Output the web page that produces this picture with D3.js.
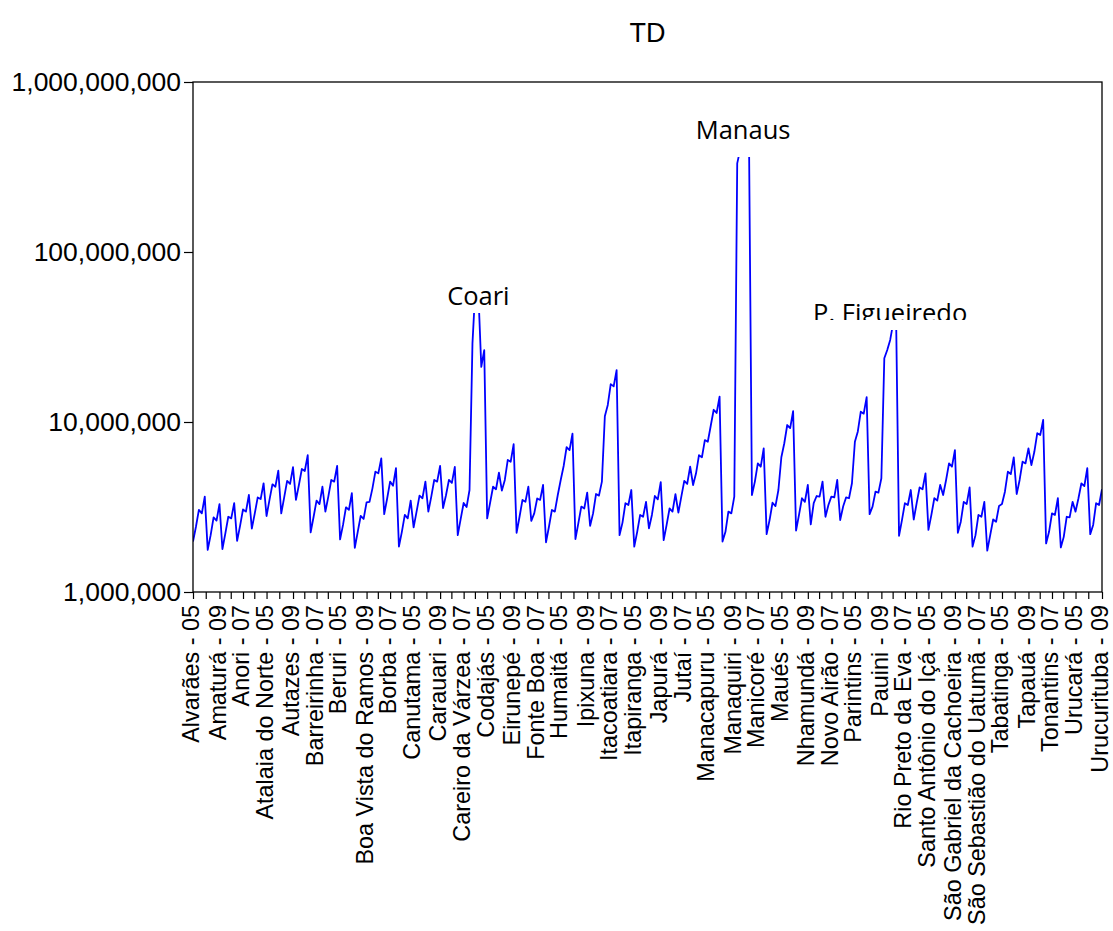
<!DOCTYPE html>
<html>
<head>
<meta charset="utf-8">
<script src="https://cdn.jsdelivr.net/npm/d3@7"></script>
<style>
  html, body { margin: 0; padding: 0; background: #fff; }
  svg { display: block; }
</style>
</head>
<body>
<svg id="chart" width="1113" height="931"></svg>
<script>
// TD by municipality of Amazonas, 2005-2009 (log scale)
const municipalities = [
  "Alvarães", "Amaturá", "Anamã", "Anori", "Apuí", "Atalaia do Norte", "Autazes", "Barcelos",
  "Barreirinha", "Benjamin Constant", "Beruri", "Boa Vista do Ramos", "Boca do Acre", "Borba",
  "Caapiranga", "Canutama", "Carauari", "Careiro", "Careiro da Várzea", "Coari", "Codajás",
  "Eirunepé", "Envira", "Fonte Boa", "Guajará", "Humaitá", "Ipixuna", "Iranduba", "Itacoatiara",
  "Itamarati", "Itapiranga", "Japurá", "Juruá", "Jutaí", "Lábrea", "Manacapuru", "Manaquiri",
  "Manaus", "Manicoré", "Maraã", "Maués", "Nhamundá", "Nova Olinda do Norte", "Novo Airão",
  "Novo Aripuanã", "Parintins", "Pauini", "Presidente Figueiredo", "Rio Preto da Eva",
  "Santa Isabel do Rio Negro", "Santo Antônio do Içá", "São Gabriel da Cachoeira",
  "São Paulo de Olivença", "São Sebastião do Uatumã", "Silves", "Tabatinga", "Tapauá", "Tefé",
  "Tonantins", "Uarini", "Urucará", "Urucurituba"
];

const years = ["05", "06", "07", "08", "09"];

// one row per municipality, 2005..2009
const tdValues = [
  1.98e6, 2.42e6, 3.04e6, 2.90e6, 3.64e6,
  1.77e6, 2.16e6, 2.75e6, 2.63e6, 3.29e6,
  1.79e6, 2.21e6, 2.77e6, 2.71e6, 3.33e6,
  2.00e6, 2.45e6, 3.06e6, 2.97e6, 3.72e6,
  2.36e6, 2.90e6, 3.60e6, 3.52e6, 4.36e6,
  2.80e6, 3.48e6, 4.30e6, 4.16e6, 5.17e6,
  2.90e6, 3.60e6, 4.50e6, 4.32e6, 5.42e6,
  3.48e6, 4.26e6, 5.29e6, 5.15e6, 6.38e6,
  2.24e6, 2.77e6, 3.45e6, 3.29e6, 4.16e6,
  2.97e6, 3.64e6, 4.56e6, 4.46e6, 5.51e6,
  2.04e6, 2.48e6, 3.15e6, 3.04e6, 3.81e6,
  1.82e6, 2.26e6, 2.80e6, 2.69e6, 3.37e6,
  3.39e6, 4.07e6, 5.10e6, 4.99e6, 6.11e6,
  2.87e6, 3.55e6, 4.46e6, 4.22e6, 5.35e6,
  1.85e6, 2.26e6, 2.84e6, 2.71e6, 3.45e6,
  2.40e6, 2.97e6, 3.69e6, 3.56e6, 4.46e6,
  2.97e6, 3.64e6, 4.56e6, 4.46e6, 5.51e6,
  3.12e6, 3.71e6, 4.56e6, 4.38e6, 5.44e6,
  2.16e6, 2.69e6, 3.34e6, 3.16e6, 3.98e6,
  29.0e6, 62.0e6, 58.0e6, 21.1e6, 26.5e6,
  2.71e6, 3.35e6, 4.16e6, 4.02e6, 5.03e6,
  3.95e6, 4.56e6, 5.98e6, 5.84e6, 7.40e6,
  2.23e6, 2.77e6, 3.48e6, 3.39e6, 4.16e6,
  2.62e6, 2.90e6, 3.55e6, 3.48e6, 4.26e6,
  1.96e6, 2.42e6, 3.04e6, 2.97e6, 3.72e6,
  4.56e6, 5.51e6, 7.11e6, 6.84e6, 8.53e6,
  2.05e6, 2.54e6, 3.18e6, 3.10e6, 3.84e6,
  2.45e6, 2.90e6, 3.77e6, 3.69e6, 4.46e6,
  10.8e6, 12.6e6, 16.7e6, 16.2e6, 20.2e6,
  2.16e6, 2.56e6, 3.33e6, 3.25e6, 3.98e6,
  1.85e6, 2.26e6, 2.84e6, 2.77e6, 3.39e6,
  2.37e6, 2.84e6, 3.67e6, 3.51e6, 4.43e6,
  2.02e6, 2.48e6, 3.10e6, 2.97e6, 3.76e6,
  2.93e6, 3.64e6, 4.50e6, 4.32e6, 5.46e6,
  4.26e6, 4.99e6, 6.38e6, 6.20e6, 7.83e6,
  7.65e6, 9.50e6, 11.8e6, 11.3e6, 14.1e6,
  1.98e6, 2.26e6, 2.97e6, 2.90e6, 3.64e6,
  332e6, 400e6, 450e6, 460e6, 470e6,
  3.72e6, 4.46e6, 5.71e6, 5.46e6, 7.00e6,
  2.19e6, 2.65e6, 3.35e6, 3.20e6, 3.98e6,
  6.20e6, 7.50e6, 9.60e6, 9.20e6, 11.6e6,
  2.30e6, 2.84e6, 3.56e6, 3.39e6, 4.26e6,
  2.50e6, 3.33e6, 3.67e6, 3.64e6, 4.46e6,
  2.77e6, 3.25e6, 3.64e6, 3.60e6, 4.56e6,
  2.65e6, 3.18e6, 3.60e6, 3.56e6, 4.36e6,
  7.65e6, 8.80e6, 11.5e6, 11.2e6, 14.0e6,
  2.87e6, 3.18e6, 3.89e6, 3.84e6, 4.67e6,
  23.7e6, 26.5e6, 30.4e6, 38.0e6, 42.0e6,
  2.14e6, 2.65e6, 3.33e6, 3.25e6, 3.98e6,
  2.67e6, 3.33e6, 4.12e6, 4.02e6, 4.99e6,
  2.32e6, 2.84e6, 3.56e6, 3.45e6, 4.26e6,
  3.72e6, 4.56e6, 5.71e6, 5.46e6, 6.84e6,
  2.23e6, 2.59e6, 3.39e6, 3.29e6, 4.12e6,
  1.85e6, 2.16e6, 2.84e6, 2.77e6, 3.39e6,
  1.75e6, 2.16e6, 2.67e6, 2.59e6, 3.21e6,
  3.29e6, 3.89e6, 5.10e6, 4.94e6, 6.20e6,
  3.77e6, 4.56e6, 5.84e6, 5.71e6, 7.00e6,
  5.58e6, 6.68e6, 8.60e6, 8.38e6, 10.3e6,
  1.93e6, 2.26e6, 2.90e6, 2.84e6, 3.56e6,
  1.83e6, 2.11e6, 2.77e6, 2.75e6, 3.39e6,
  2.97e6, 3.56e6, 4.36e6, 4.20e6, 5.35e6,
  2.19e6, 2.48e6, 3.33e6, 3.25e6, 4.02e6
];

const tickLabels = [
  "Alvarães - 05", "Amaturá - 09", "Anori - 07", "Atalaia do Norte - 05", "Autazes - 09",
  "Barreirinha - 07", "Beruri - 05", "Boa Vista do Ramos - 09", "Borba - 07", "Canutama - 05",
  "Carauari - 09", "Careiro da Várzea - 07", "Codajás - 05", "Eirunepé - 09", "Fonte Boa - 07",
  "Humaitá - 05", "Ipixuna - 09", "Itacoatiara - 07", "Itapiranga - 05", "Japurá - 09",
  "Jutaí - 07", "Manacapuru - 05", "Manaquiri - 09", "Manicoré - 07", "Maués - 05",
  "Nhamundá - 09", "Novo Airão - 07", "Parintins - 05", "Pauini - 09", "Rio Preto da Eva - 07",
  "Santo Antônio do Içá - 05", "São Gabriel da Cachoeira - 09", "São Sebastião do Uatumã - 07",
  "Tabatinga - 05", "Tapauá - 09", "Tonantins - 07", "Urucará - 05", "Urucurituba - 09"
];

const yTickValues = [1e6, 1e7, 1e8, 1e9];

const annotations = [
  { municipality: "Coari", label: "Coari" },
  { municipality: "Manaus", label: "Manaus" },
  { municipality: "Presidente Figueiredo", label: "P. Figueiredo" }
];

const chartTitle = "TD";

// ---- layout ----
const width = 1113, height = 931;
const margin = { top: 82, right: 11, bottom: 339, left: 193 };
const W = width - margin.left - margin.right;
const H = height - margin.top - margin.bottom;
const axisFont = "'Liberation Sans', Arial, Helvetica, sans-serif";
const noteFont = "'Open Sans', 'Noto Sans', sans-serif";

// text boxes over the peaks: baseline, box top/bottom and text clip (px from top of svg)
const noteLayout = {
  "Coari":                 { baseline: 305, boxTop: 279, boxBottom: 313, textClip: null },
  "Manaus":                { baseline: 139, boxTop: 112, boxBottom: 157, textClip: null },
  "Presidente Figueiredo": { baseline: 322, boxTop: 295, boxBottom: 330, textClip: 320 }
};

const categories = municipalities.flatMap(m => years.map(y => `${m} - ${y}`));
const points = categories.map((c, i) => ({ cat: c, value: tdValues[i] }));

const svg = d3.select("#chart");
svg.append("rect").attr("width", width).attr("height", height).attr("fill", "#fff");

const x = d3.scalePoint().domain(categories).range([0, W]).padding(0);
const y = d3.scaleLog().domain([1e6, 1e9]).range([H, 0]);

const g = svg.append("g").attr("transform", `translate(${margin.left},${margin.top})`);

g.append("defs").append("clipPath").attr("id", "plotClip")
  .append("rect").attr("width", W).attr("height", H);

// series line
g.append("path")
  .datum(points)
  .attr("clip-path", "url(#plotClip)")
  .attr("fill", "none")
  .attr("stroke", "#0000ff")
  .attr("stroke-width", 1.8)
  .attr("stroke-linejoin", "round")
  .attr("d", d3.line().x(d => x(d.cat)).y(d => y(d.value)));

// y axis
const yAxis = g.append("g")
  .call(d3.axisLeft(y).tickValues(yTickValues).tickFormat(d3.format(",")).tickSize(9).tickSizeOuter(0));
yAxis.select(".domain").remove();
yAxis.selectAll(".tick line").attr("stroke", "#000").attr("stroke-width", 1.2);
yAxis.selectAll(".tick text")
  .attr("x", -12)
  .attr("font-family", axisFont)
  .attr("font-size", 26.5)
  .attr("fill", "#000");

// x axis, labelled ticks
const xAxis = g.append("g")
  .attr("transform", `translate(0,${H})`)
  .call(d3.axisBottom(x).tickValues(tickLabels).tickSize(7).tickSizeOuter(0));
xAxis.select(".domain").remove();
xAxis.selectAll(".tick line").attr("stroke", "#000").attr("stroke-width", 1.2);
xAxis.selectAll(".tick text")
  .attr("transform", "rotate(-90)")
  .attr("text-anchor", "end")
  .attr("x", -13)
  .attr("y", 0)
  .attr("dy", "0.25em")
  .attr("font-family", axisFont)
  .attr("font-size", 23.4)
  .attr("fill", "#000");

// unlabelled ticks half way between labelled ones
const minorPos = d3.pairs(tickLabels).map(([a, b]) => (x(a) + x(b)) / 2);
xAxis.selectAll(".minor").data(minorPos).join("line")
  .attr("class", "minor")
  .attr("x1", d => d).attr("x2", d => d)
  .attr("y1", 0).attr("y2", 7)
  .attr("stroke", "#000").attr("stroke-width", 1.2);

// frame
g.append("rect")
  .attr("width", W).attr("height", H)
  .attr("fill", "none").attr("stroke", "#000").attr("stroke-width", 1.3);

// title
svg.append("text")
  .attr("x", margin.left + W / 2).attr("y", 42)
  .attr("text-anchor", "middle")
  .attr("font-family", axisFont)
  .attr("font-size", 27)
  .attr("fill", "#000")
  .text(chartTitle);

// peak notes: white text boxes laid over the line
const defs = svg.append("defs");
annotations.forEach((a, k) => {
  const lay = noteLayout[a.municipality];
  const cx = margin.left + x(`${a.municipality} - 07`);
  const t = svg.append("text")
    .attr("x", cx).attr("y", lay.baseline)
    .attr("text-anchor", "middle")
    .attr("font-family", noteFont)
    .attr("font-size", 25.5)
    .attr("fill", "#000")
    .text(a.label);
  const bb = t.node().getBBox();
  svg.insert("rect", () => t.node())
    .attr("x", bb.x - 4).attr("y", lay.boxTop)
    .attr("width", bb.width + 8).attr("height", lay.boxBottom - lay.boxTop)
    .attr("fill", "#fff");
  if (lay.textClip !== null) {
    const id = `noteClip${k}`;
    defs.append("clipPath").attr("id", id)
      .append("rect").attr("x", bb.x - 4).attr("y", lay.boxTop)
      .attr("width", bb.width + 8).attr("height", lay.textClip - lay.boxTop);
    t.attr("clip-path", `url(#${id})`);
  }
});
</script>
</body>
</html>
